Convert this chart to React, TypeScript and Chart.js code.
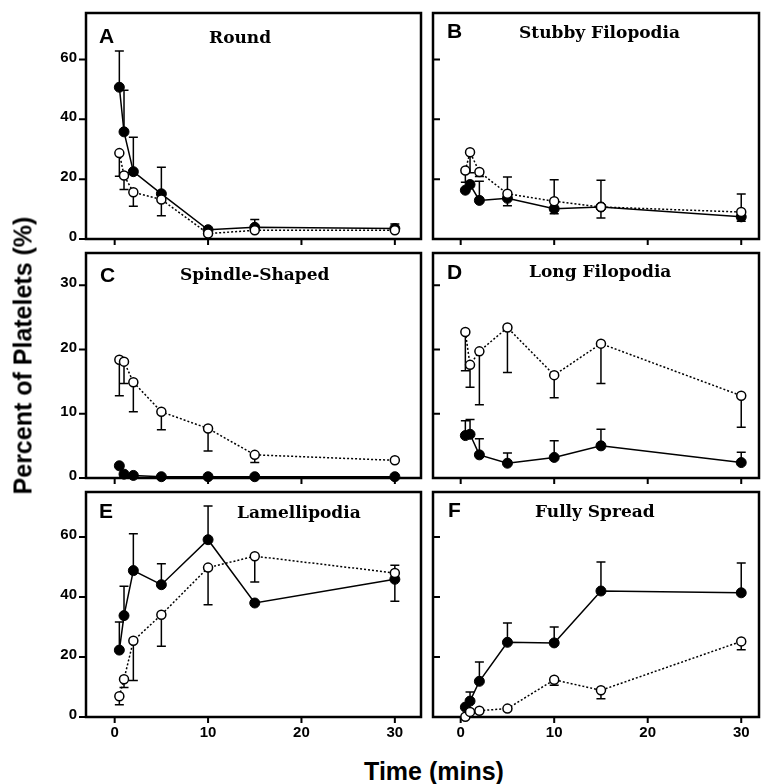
import React, { useEffect, useRef } from 'react';
import { Chart, registerables } from 'chart.js';
Chart.register(...registerables);

// ---- data ----
const times = [0.5, 1, 2, 5, 10, 15, 30];
const xTicks = [0, 10, 20, 30];
const yTicksWide = [0, 20, 40, 60];
const yTicksNarrow = [0, 10, 20, 30];

const panelLetters = ['A', 'B', 'C', 'D', 'E', 'F'];
const panelTitles = ['Round', 'Stubby Filopodia', 'Spindle-Shaped', 'Long Filopodia', 'Lamellipodia', 'Fully Spread'];

// filled circles (solid line) and open circles (dotted line); error values signed (+ up, - down)
const roundFilled = [50.7, 35.8, 22.5, 15.1, 3.1, 3.9, 3.5];
const roundFilledErr = [12.1, 13.9, 11.5, 8.9, 0, 2.6, 1.5];
const roundOpen = [28.7, 21.2, 15.6, 13.2, 1.8, 2.9, 2.9];
const roundOpenErr = [-7.7, -4.7, -4.7, -5.4, 0, 0, 0];

const stubFilled = [16.3, 18.2, 12.9, 13.6, 10.1, 10.7, 7.4];
const stubFilledErr = [0, 1.0, 6.4, -2.5, -1.7, -3.7, -1.5];
const stubOpen = [22.9, 29.0, 22.4, 15.1, 12.6, 10.7, 9.0];
const stubOpenErr = [-3.9, -6.9, -1.5, 5.6, 7.2, 8.9, 6.0];

const spinFilled = [1.9, 0.6, 0.4, 0.2, 0.2, 0.2, 0.2];
const spinFilledErr = [0, 0, 0, 0, 0, 0, 0];
const spinOpen = [18.4, 18.1, 14.9, 10.3, 7.7, 3.6, 2.75];
const spinOpenErr = [-5.6, -3.4, -4.6, -2.8, -3.5, -1.2, 0];

const longFilled = [6.6, 6.8, 3.6, 2.3, 3.2, 5.0, 2.4];
const longFilledErr = [2.3, 2.3, 2.5, 1.6, 2.6, 2.6, 1.6];
const longOpen = [22.7, 17.6, 19.7, 23.4, 16.0, 20.9, 12.8];
const longOpenErr = [-6.0, -3.5, -8.3, -7.0, -3.5, -6.2, -4.9];

const lamFilled = [22.3, 33.8, 48.8, 44.1, 59.1, 38.0, 45.9];
const lamFilledErr = [9.4, 9.8, 12.3, 7.0, 11.2, 0, -7.3];
const lamOpen = [6.9, 12.6, 25.4, 34.1, 49.8, 53.6, 48.0];
const lamOpenErr = [-2.8, -2.8, -13.2, -10.5, -12.4, -8.6, 2.6];

const fullFilled = [3.3, 5.3, 11.9, 24.9, 24.7, 42.0, 41.4];
const fullFilledErr = [0, 3.0, 6.4, 6.4, 5.3, 9.7, 9.9];
const fullOpen = [0.1, 1.7, 2.1, 2.8, 12.4, 8.9, 25.2];
const fullOpenErr = [0, 0, 0, 0, -1.8, -2.8, -2.8];

const filledSeries = [roundFilled, stubFilled, spinFilled, longFilled, lamFilled, fullFilled];
const filledErrs = [roundFilledErr, stubFilledErr, spinFilledErr, longFilledErr, lamFilledErr, fullFilledErr];
const openSeries = [roundOpen, stubOpen, spinOpen, longOpen, lamOpen, fullOpen];
const openErrs = [roundOpenErr, stubOpenErr, spinOpenErr, longOpenErr, lamOpenErr, fullOpenErr];
const yMaxes = [75.5, 75.5, 35, 35, 75, 75];
const yTickSets = [yTicksWide, yTicksWide, yTicksNarrow, yTicksNarrow, yTicksWide, yTicksWide];

// ---- layout (page pixels) ----
const boxes = [
  { l: 86, t: 13, r: 425, b: 239 },
  { l: 433, t: 13, r: 763, b: 239 },
  { l: 86, t: 253, r: 425, b: 478 },
  { l: 433, t: 253, r: 763, b: 478 },
  { l: 86, t: 492, r: 425, b: 717 },
  { l: 433, t: 492, r: 763, b: 717 },
];
const letterPos = [[99, 43], [447, 37.5], [100, 281.5], [447, 279], [99, 518], [448, 516.5]];
const titlePos = [[209, 42.5], [519, 37.5], [180, 280], [529, 277], [237, 517.5], [535, 516.5]];
const xRanges = [[-3.07, 32.8], [-2.96, 31.9]];
const LM = 60, BM = 34, TP = 10, RP = 2;

function makePlugin(idx: number, cLeft: number, cTop: number) {
  const leftCol = idx % 2 === 0;
  return {
    id: 'deco' + idx,
    beforeDatasetsDraw(chart: any) {
      const ctx = chart.ctx;
      const a = chart.chartArea;
      const xs = chart.scales.x, ys = chart.scales.y;
      ctx.save();
      ctx.strokeStyle = '#000';
      // frame
      ctx.lineWidth = 2.5;
      ctx.strokeRect(a.left, a.top, a.right - a.left, a.bottom - a.top);
      // tick marks
      ctx.lineWidth = 2;
      ctx.beginPath();
      xTicks.forEach((v) => {
        const px = xs.getPixelForValue(v);
        ctx.moveTo(px, a.bottom);
        ctx.lineTo(px, a.bottom + 6);
      });
      yTickSets[idx].forEach((v) => {
        const py = ys.getPixelForValue(v);
        if (leftCol) {
          ctx.moveTo(a.left - 7, py);
          ctx.lineTo(a.left, py);
        } else {
          ctx.moveTo(a.left, py);
          ctx.lineTo(a.left + 7, py);
        }
      });
      ctx.stroke();
      // error bars
      ctx.lineWidth = 1.5;
      chart.data.datasets.forEach((ds: any) => {
        ds.data.forEach((pt: any, i: number) => {
          const e = ds.errs[i];
          if (!e) return;
          const px = xs.getPixelForValue(pt.x);
          const p0 = ys.getPixelForValue(pt.y);
          const p1 = ys.getPixelForValue(pt.y + e);
          ctx.beginPath();
          ctx.moveTo(px, p0);
          ctx.lineTo(px, p1);
          ctx.moveTo(px - 4.5, p1);
          ctx.lineTo(px + 4.5, p1);
          ctx.stroke();
        });
      });
      ctx.restore();
    },
    afterDraw(chart: any) {
      const ctx = chart.ctx;
      ctx.save();
      ctx.fillStyle = '#000';
      ctx.textBaseline = 'alphabetic';
      ctx.textAlign = 'left';
      ctx.font = 'bold 21px "Liberation Sans"';
      ctx.fillText(panelLetters[idx], letterPos[idx][0] - cLeft, letterPos[idx][1] - cTop);
      ctx.font = 'bold 17px "DejaVu Serif"';
      ctx.fillText(panelTitles[idx], titlePos[idx][0] - cLeft, titlePos[idx][1] - cTop);
      ctx.restore();
    },
  };
}

function Panel({ idx }: { idx: number }) {
  const ref = useRef<HTMLCanvasElement>(null);
  const box = boxes[idx];
  const cLeft = box.l - LM;
  const cTop = box.t - TP;
  const w = LM + (box.r - box.l) + RP;
  const h = TP + (box.b - box.t) + BM;
  const leftCol = idx % 2 === 0;
  const bottomRow = idx >= 4;
  const xr = xRanges[leftCol ? 0 : 1];

  useEffect(() => {
    if (!ref.current) return;
    const tickFont = { family: 'Liberation Sans', size: 15, weight: 'bold' as const };
    const chart = new Chart(ref.current, {
      type: 'line',
      data: {
        datasets: [
          {
            data: times.map((t, i) => ({ x: t, y: openSeries[idx][i] })),
            errs: openErrs[idx],
            borderColor: '#000',
            borderWidth: 1.5,
            borderDash: [2, 2],
            pointRadius: 4.5,
            pointBackgroundColor: '#fff',
            pointBorderColor: '#000',
            pointBorderWidth: 1.5,
            tension: 0,
            clip: false,
            order: 0,
          } as any,
          {
            data: times.map((t, i) => ({ x: t, y: filledSeries[idx][i] })),
            errs: filledErrs[idx],
            borderColor: '#000',
            borderWidth: 1.5,
            pointRadius: 5,
            pointBackgroundColor: '#000',
            pointBorderColor: '#000',
            pointBorderWidth: 1,
            tension: 0,
            clip: false,
            order: 1,
          } as any,
        ],
      },
      options: {
        animation: false,
        responsive: false,
        maintainAspectRatio: false,
        layout: { padding: { left: 0, right: RP, top: TP, bottom: 0 } },
        plugins: { legend: { display: false }, tooltip: { enabled: false } },
        events: [],
        scales: {
          x: {
            type: 'linear',
            min: xr[0],
            max: xr[1],
            afterBuildTicks: (s: any) => { s.ticks = xTicks.map((v) => ({ value: v })); },
            afterFit: (s: any) => { s.height = BM; s.paddingLeft = 0; s.paddingRight = 0; s.paddingTop = 0; s.paddingBottom = 0; },
            grid: { display: false, drawTicks: false },
            border: { display: false },
            ticks: { display: bottomRow, color: '#000', font: tickFont, padding: 7, maxRotation: 0, autoSkip: false },
          },
          y: {
            type: 'linear',
            min: 0,
            max: yMaxes[idx],
            afterBuildTicks: (s: any) => { s.ticks = yTickSets[idx].map((v) => ({ value: v })); },
            afterFit: (s: any) => { s.width = LM; s.paddingLeft = 0; s.paddingRight = 0; s.paddingTop = 0; s.paddingBottom = 0; },
            grid: { display: false, drawTicks: false },
            border: { display: false },
            ticks: { display: leftCol, color: '#000', font: tickFont, padding: 9, labelOffset: -2, autoSkip: false },
          },
        },
      } as any,
      plugins: [makePlugin(idx, cLeft, cTop)],
    });
    return () => chart.destroy();
  }, []);

  return (
    <canvas
      ref={ref}
      width={w}
      height={h}
      style={{ position: 'absolute', left: cLeft, top: cTop, width: w, height: h }}
    />
  );
}

export default function App() {
  return (
    <div style={{ position: 'absolute', left: 0, top: 0, width: 765, height: 784, overflow: 'hidden', background: '#fff' }}>
      {boxes.map((_, i) => <Panel key={i} idx={i} />)}
      <div
        style={{
          position: 'absolute', left: 22.7 - 200, top: 355 - 12.5, width: 400, height: 25,
          lineHeight: '25px', fontSize: 25, fontWeight: 'bold', fontFamily: '"Liberation Sans", Arial, sans-serif',
          textAlign: 'center', transform: 'rotate(-90deg)', whiteSpace: 'nowrap', color: '#000',
        }}
      >
        Percent of Platelets (%)
      </div>
      <div
        style={{
          position: 'absolute', left: 434 - 150, top: 758.8, width: 300, height: 25,
          lineHeight: '25px', fontSize: 25, fontWeight: 'bold', fontFamily: '"Liberation Sans", Arial, sans-serif',
          textAlign: 'center', whiteSpace: 'nowrap', color: '#000',
        }}
      >
        Time (mins)
      </div>
    </div>
  );
}
